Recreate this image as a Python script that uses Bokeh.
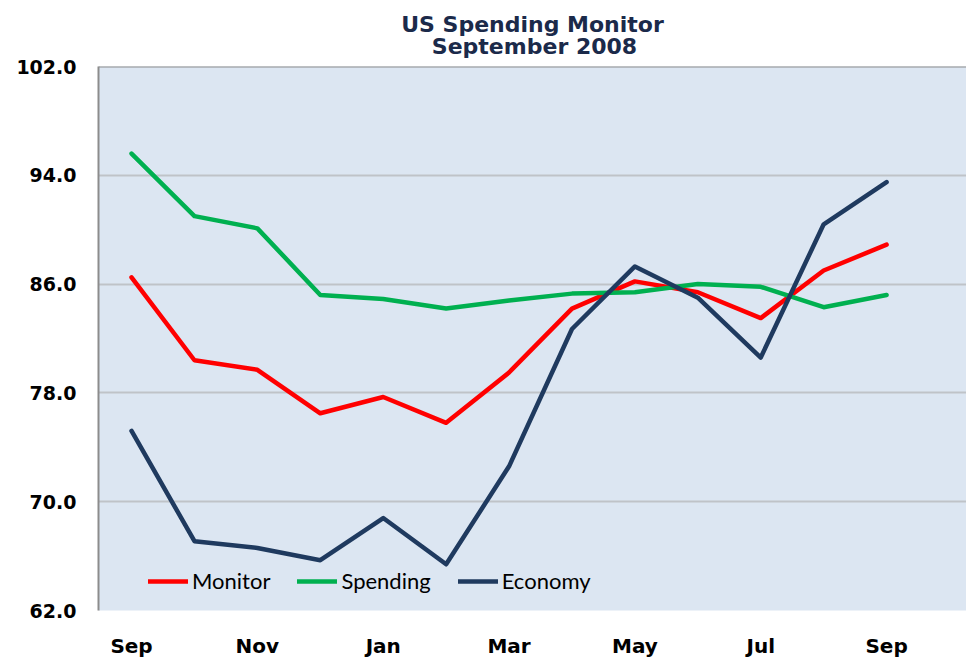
from bokeh.plotting import figure
from bokeh.models import (Range1d, FixedTicker, NumeralTickFormatter, Legend, LegendItem,
                          Title, Span)
from bokeh.embed import file_html
from bokeh.resources import INLINE

# ---- data ----
months = ["Sep", "Oct", "Nov", "Dec", "Jan", "Feb", "Mar", "Apr", "May", "Jun", "Jul", "Aug", "Sep"]
monitor = [86.5, 80.4, 79.7, 76.5, 77.7, 75.8, 79.5, 84.2, 86.2, 85.4, 83.5, 87.0, 88.9]
spending = [95.6, 91.0, 90.1, 85.2, 84.9, 84.2, 84.8, 85.3, 85.4, 86.0, 85.8, 84.3, 85.2]
economy = [75.2, 67.1, 66.6, 65.7, 68.8, 65.4, 72.6, 82.7, 87.3, 85.0, 80.6, 90.4, 93.5]
y_ticks = [62, 70, 78, 86, 94, 102]
title_lines = ["US Spending Monitor", "September 2008"]

x = list(range(len(months)))

p = figure(width=966, height=660, output_backend="svg", toolbar_location=None,
           x_range=Range1d(-0.525, 13.27), y_range=Range1d(62, 102),
           min_border_left=98, min_border_right=0, min_border_top=66, min_border_bottom=50)

p.background_fill_color = "#DCE6F2"
p.border_fill_color = "white"
p.outline_line_color = None

series = [("Monitor", monitor, "#FF0000"),
          ("Spending", spending, "#00B050"),
          ("Economy", economy, "#1F3A5F")]
items = []
for name, vals, col in series:
    r = p.line(x, vals, line_color=col, line_width=4.5, line_join="round", line_cap="round")
    items.append(LegendItem(label=name, renderers=[r]))

# grid
p.xgrid.visible = False
p.ygrid.ticker = FixedTicker(ticks=y_ticks)
p.ygrid.grid_line_color = "#BFC3C8"
p.ygrid.grid_line_width = 2

p.add_layout(Span(location=102, dimension="width", line_color="#8C8C8C", line_width=2))

# axes
p.yaxis.ticker = FixedTicker(ticks=y_ticks)
p.yaxis.formatter = NumeralTickFormatter(format="0.0")
p.yaxis.axis_line_color = "#8C8C8C"
p.yaxis.axis_line_width = 2
p.yaxis.major_tick_line_color = None
p.yaxis.minor_tick_line_color = None
p.yaxis.major_label_standoff = 16
p.yaxis.major_label_text_font = "DejaVu Sans"
p.yaxis.major_label_text_font_style = "bold"
p.yaxis.major_label_text_font_size = "19px"
p.yaxis.major_label_text_color = "black"

xt = list(range(0, len(months), 2))
p.xaxis.ticker = FixedTicker(ticks=xt)
p.xaxis.major_label_overrides = {i: months[i] for i in xt}
p.xaxis.axis_line_color = None
p.xaxis.major_tick_line_color = None
p.xaxis.minor_tick_line_color = None
p.xaxis.major_label_standoff = 17
p.xaxis.major_label_text_font = "DejaVu Sans"
p.xaxis.major_label_text_font_style = "bold"
p.xaxis.major_label_text_font_size = "20px"
p.xaxis.major_label_text_color = "black"

# legend
legend = Legend(items=items, orientation="horizontal", location=(50, 16),
                padding=0, margin=0, spacing=27, glyph_width=40, glyph_height=22,
                label_height=22, label_standoff=4,
                label_text_font="Lato", label_text_font_size="22px", label_text_color="black",
                background_fill_alpha=0, border_line_alpha=0)
p.add_layout(legend, "center")

# title: two lines; second line indented with no-break spaces so both look centred
title_text = title_lines[0] + "\n" + "\u00a0" * 4 + title_lines[1]
p.add_layout(Title(text=title_text, align="center", text_font="DejaVu Sans",
                   text_font_style="bold", text_font_size="22px",
                   text_line_height=0.9,
                   text_color="#1B2A4A", standoff=15), "above")

open("out.html", "w").write(file_html(p, INLINE))
